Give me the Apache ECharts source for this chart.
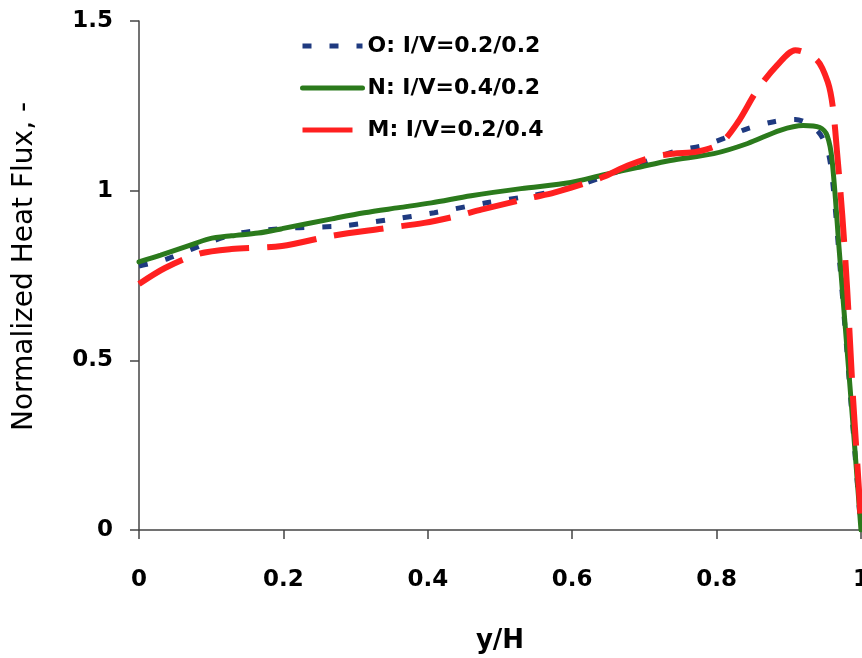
<!DOCTYPE html>
<html>
<head>
<meta charset="utf-8">
<script src="https://cdn.jsdelivr.net/npm/echarts@6/dist/echarts.min.js"></script>
<style>
html,body{margin:0;padding:0;background:#fff;}
#chart{width:862px;height:658px;}
</style>
</head>
<body>
<div id="chart"></div>
<script>
// Series O: I/V=0.2/0.2 (blue dotted)
var oX = [0, 0.04, 0.1, 0.142, 0.211, 0.28, 0.345, 0.409, 0.483, 0.543, 0.6, 0.642, 0.7, 0.746, 0.782, 0.81, 0.843, 0.881, 0.909, 0.939, 0.954, 0.962, 0.97, 0.98, 0.99, 1];
var oY = [0.778, 0.80, 0.85, 0.876, 0.89, 0.896, 0.914, 0.935, 0.965, 0.985, 1.01, 1.04, 1.085, 1.118, 1.133, 1.154, 1.183, 1.204, 1.21, 1.178, 1.118, 1.0, 0.80, 0.54, 0.27, 0.0];
// Series N: I/V=0.4/0.2 (green solid)
var nX = [0, 0.03, 0.065, 0.097, 0.128, 0.165, 0.198, 0.267, 0.312, 0.36, 0.405, 0.46, 0.529, 0.598, 0.644, 0.69, 0.736, 0.796, 0.843, 0.888, 0.92, 0.943, 0.953, 0.96, 0.97, 0.98, 0.99, 1];
var nY = [0.79, 0.81, 0.835, 0.858, 0.867, 0.875, 0.888, 0.917, 0.935, 0.95, 0.964, 0.985, 1.006, 1.024, 1.047, 1.068, 1.089, 1.109, 1.139, 1.178, 1.192, 1.186, 1.163, 1.089, 0.82, 0.55, 0.28, 0.0];
// Series M: I/V=0.2/0.4 (red dashed)
var mX = [0, 0.036, 0.083, 0.128, 0.198, 0.267, 0.336, 0.395, 0.442, 0.474, 0.543, 0.575, 0.64, 0.677, 0.713, 0.74, 0.773, 0.805, 0.829, 0.856, 0.884, 0.909, 0.939, 0.954, 0.961, 0.967, 0.974, 0.981, 0.989, 0.998, 1];
var mY = [0.725, 0.772, 0.814, 0.828, 0.837, 0.867, 0.888, 0.905, 0.926, 0.944, 0.979, 0.994, 1.038, 1.074, 1.1, 1.109, 1.115, 1.139, 1.2, 1.296, 1.37, 1.414, 1.385, 1.32, 1.246, 1.109, 0.93, 0.704, 0.388, 0.092, 0.0];

var seriesNames = ['O: I/V=0.2/0.2', 'N: I/V=0.4/0.2', 'M: I/V=0.2/0.4'];
var xTickValues = [0, 0.2, 0.4, 0.6, 0.8, 1];
var xTickLabels = ['0', '0.2', '0.4', '0.6', '0.8', '1'];
var yTickLabels = ['0', '0.5', '1', '1.5'];

function pairs(xs, ys) { return xs.map(function (x, i) { return [x, ys[i]]; }); }

var chart = echarts.init(document.getElementById('chart'), null, {renderer: 'canvas'});
var tickFont = {fontFamily: 'DejaVu Sans', fontWeight: 'bold', fontSize: 23, color: '#000'};

chart.setOption({
  animation: false,
  backgroundColor: '#fff',
  grid: {left: 139, right: 1, top: 21, bottom: 128, containLabel: false, outerBoundsMode: 'none'},
  legend: {
    orient: 'vertical',
    left: 295,
    top: 30,
    itemWidth: 60,
    itemHeight: 22,
    itemGap: 20,
    itemStyle: {opacity: 0},
    lineStyle: {width: 5},
    data: seriesNames,
    textStyle: {fontFamily: 'DejaVu Sans', fontWeight: 'bold', fontSize: 22, color: '#000', lineHeight: 22}
  },
  xAxis: {
    type: 'value', min: 0, max: 1, interval: 0.2,
    name: 'y/H', nameLocation: 'middle', nameGap: 98, nameMoveOverlap: false,
    nameTextStyle: {fontFamily: 'DejaVu Sans', fontWeight: 'bold', fontSize: 26, color: '#000'},
    axisLine: {show: true, lineStyle: {color: '#444', width: 1.5}},
    axisTick: {show: true, inside: false, length: 9, lineStyle: {color: '#444', width: 1.5}},
    axisLabel: {show: false},
    splitLine: {show: false}
  },
  yAxis: {
    type: 'value', min: 0, max: 1.5, interval: 0.5,
    name: 'Normalized Heat Flux, -', nameLocation: 'middle', nameGap: 100, nameRotate: 90, nameMoveOverlap: false,
    nameTextStyle: {fontFamily: 'DejaVu Sans', fontWeight: 'normal', fontSize: 28, color: '#000', padding: [0, 0, 0, 18]},
    axisLine: {show: true, lineStyle: {color: '#444', width: 1.5}},
    axisTick: {show: true, inside: false, length: 9, lineStyle: {color: '#444', width: 1.5}},
    axisLabel: Object.assign({margin: 26, formatter: function (v) { return yTickLabels[Math.round(v / 0.5)]; }}, tickFont),
    splitLine: {show: false}
  },
  series: [
    {
      name: seriesNames[0], type: 'line', data: pairs(oX, oY), symbol: 'none', smooth: 0.3, z: 2,
      lineStyle: {color: '#1f3a80', width: 5, type: [9, 18], cap: 'butt'},
      itemStyle: {color: '#1f3a80'}
    },
    {
      name: seriesNames[1], type: 'line', data: pairs(nX, nY), symbol: 'none', smooth: 0.3, z: 3,
      lineStyle: {color: '#2b7a1c', width: 5, type: 'solid', cap: 'round'},
      itemStyle: {color: '#2b7a1c'}
    },
    {
      name: seriesNames[2], type: 'line', data: pairs(mX, mY), symbol: 'none', smooth: 0.3, z: 4,
      lineStyle: {color: '#ff2020', width: 6, type: [50, 18], cap: 'butt'},
      itemStyle: {color: '#ff2020'}
    }
  ]
});

// x tick labels placed through the chart's own x scale
var labelY = chart.convertToPixel({yAxisIndex: 0}, 0) + 50;
chart.setOption({
  graphic: xTickValues.map(function (v, i) {
    return {
      type: 'text',
      x: chart.convertToPixel({xAxisIndex: 0}, v),
      y: labelY,
      silent: true,
      style: {
        text: xTickLabels[i],
        font: 'bold 23px "DejaVu Sans"',
        fill: '#000',
        align: 'center',
        verticalAlign: 'middle',
        textAlign: 'center',
        textVerticalAlign: 'middle'
      }
    };
  })
});
</script>
</body>
</html>
